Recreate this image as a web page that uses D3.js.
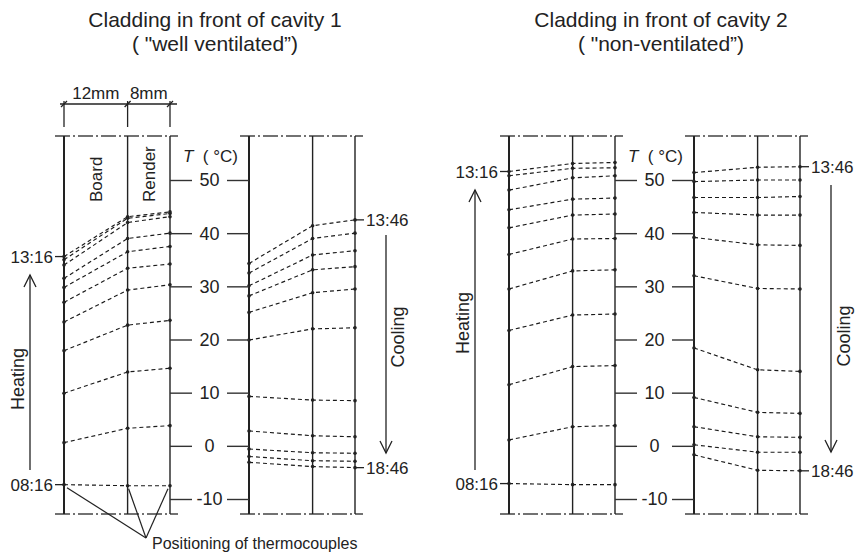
<!DOCTYPE html>
<html>
<head>
<meta charset="utf-8">
<script src="https://cdn.jsdelivr.net/npm/d3@7"></script>
<style>
  body { margin: 0; background: #fff; }
  text { font-family: "Liberation Sans", Arial, sans-serif; fill: #222; }
</style>
</head>
<body>
<div class="svg-container"></div>
<script>
var width = 857;
var height = 553;

// thermocouple positions through the cladding (mm)
var positions = [0, 12, 20];
var tempTicks = [-10, 0, 10, 20, 30, 40, 50];
var heatTimes = ["08:16", "13:16"];
var coolTimes = ["13:46", "18:46"];
var layerNames = ["Board", "Render"];
var layerWidths = ["12mm", "8mm"];

// temperature profiles (°C) at the three positions, first to last reading
var heat1 = [[-7.3, -7.5, -7.5], [0.6, 3.3, 3.8], [9.9, 13.9, 14.6], [17.9, 22.7, 23.6],
             [23.3, 29.3, 30.3], [27.0, 33.4, 34.2], [29.8, 36.5, 37.5], [31.5, 39.0, 40.0],
             [34.0, 42.0, 43.1], [35.0, 42.8, 43.7], [35.6, 43.1, 44.0]];
var cool1 = [[34.3, 41.4, 42.5], [32.5, 39.0, 40.0], [30.1, 35.9, 36.7], [28.2, 33.1, 33.7],
             [25.1, 28.8, 29.5], [19.9, 22.0, 22.2], [9.3, 8.6, 8.5], [2.8, 1.9, 1.7],
             [-0.6, -1.3, -1.4], [-2.0, -2.8, -2.9], [-3.1, -3.9, -4.1]];
var heat2 = [[-7.1, -7.3, -7.3], [1.1, 3.6, 3.8], [11.5, 14.9, 15.1], [21.7, 24.6, 24.8],
             [29.5, 32.9, 33.1], [36.0, 38.9, 39.0], [41.0, 43.4, 43.6], [44.4, 46.4, 46.6],
             [48.1, 50.4, 50.8], [50.8, 52.2, 52.3], [51.6, 53.1, 53.3]];
var cool2 = [[51.4, 52.4, 52.5], [49.7, 50.0, 50.0], [46.7, 46.7, 46.9], [43.9, 43.4, 43.4],
             [39.2, 37.8, 37.7], [32.0, 29.6, 29.5], [18.4, 14.3, 14.0], [9.1, 6.3, 6.1],
             [3.6, 1.7, 1.6], [0.2, -1.2, -1.2], [-1.7, -4.6, -4.7]];

var titles1 = ["Cladding in front of cavity 1", "( \"well ventilated\u201D)"];
var titles2 = ["Cladding in front of cavity 2", "( \"non-ventilated\u201D)"];

var frameTop = 136, frameBottom = 514;

var svg = d3.select(".svg-container")
            .append("svg")
            .attr("width", width)
            .attr("height", height);

var scaleY = d3.scaleLinear().domain([-10, 50]).range([499, 180]);
var scaleX = d3.scaleLinear().domain([0, 20]).range([0, 106]);

var panels = [
  { heat: heat1, cool: cool1, heatX: 64, coolX: 249, titleX: 215, titles: titles1,
    heatArrow: [30, 470, 275], heatText: [24, 379], coolArrow: [386, 235, 453], coolText: [404, 337] },
  { heat: heat2, cool: cool2, heatX: 509, coolX: 694, titleX: 661, titles: titles2,
    heatArrow: [475, 470, 190], heatText: [469, 323], coolArrow: [831, 185, 452], coolText: [850, 336] }
];

panels.forEach(function(p) {
  drawTitle(p);
  drawSection(p.heatX, p.heat);
  drawSection(p.coolX, p.cool);
  drawAxis(p.heatX + scaleX(20), p.coolX);
  timeLabel(p.heatX, p.heat[0][0], heatTimes[0], "left");
  timeLabel(p.heatX, p.heat[p.heat.length - 1][0], heatTimes[1], "left");
  timeLabel(p.coolX + scaleX(20), p.cool[0][2], coolTimes[0], "right");
  timeLabel(p.coolX + scaleX(20), p.cool[p.cool.length - 1][2], coolTimes[1], "right");
  arrow(p.heatArrow, "Heating", p.heatText);
  arrow(p.coolArrow, "Cooling", p.coolText);
});

drawDimensions(panels[0].heatX);
drawPositioning(panels[0].heatX, heat1[0]);

function drawTitle(p) {
  svg.selectAll(null)
     .data(p.titles)
     .enter()
     .append("text")
     .attr("x", p.titleX)
     .attr("y", function(d, i) { return 27 + i * 24; })
     .attr("text-anchor", "middle")
     .style("font-size", "21px")
     .text(function(d) { return d; });
}

function drawSection(x0, rows) {
  var g = svg.append("g").attr("transform", "translate(" + x0 + ",0)");

  // dash-dot section borders
  [frameTop, frameBottom].forEach(function(yy) {
    g.append("line")
     .attr("x1", -9).attr("x2", scaleX(20) + 8)
     .attr("y1", yy).attr("y2", yy)
     .attr("stroke", "#444")
     .attr("stroke-width", 1.4)
     .attr("stroke-dasharray", "15,3,2,3");
  });

  g.selectAll(".layer")
   .data(positions)
   .enter()
   .append("line")
   .attr("x1", function(d) { return scaleX(d); })
   .attr("x2", function(d) { return scaleX(d); })
   .attr("y1", frameTop).attr("y2", frameBottom)
   .attr("stroke", "#222")
   .attr("stroke-width", function(d, i) { return i == 0 ? 2 : 1.4; });

  var line = d3.line()
               .x(function(d, i) { return scaleX(positions[i]); })
               .y(function(d) { return scaleY(d); });

  g.selectAll(".profile")
   .data(rows)
   .enter()
   .append("path")
   .attr("d", line)
   .attr("fill", "none")
   .attr("stroke", "#1a1a1a")
   .attr("stroke-width", 1.15)
   .attr("stroke-dasharray", "4,3");

  rows.forEach(function(r) {
    g.selectAll(null)
     .data(r)
     .enter()
     .append("circle")
     .attr("cx", function(d, i) { return scaleX(positions[i]); })
     .attr("cy", function(d) { return scaleY(d); })
     .attr("r", 1.8)
     .attr("fill", "#222");
  });
}

function drawAxis(xLeft, xRight) {
  var a = svg.append("g")
             .attr("transform", "translate(" + xLeft + ",0)")
             .call(d3.axisRight(scaleY).tickValues(tempTicks).tickSize(22).tickFormat(""));
  var b = svg.append("g")
             .attr("transform", "translate(" + xRight + ",0)")
             .call(d3.axisLeft(scaleY).tickValues(tempTicks).tickSize(22).tickFormat(""));
  [a, b].forEach(function(s) {
    s.select(".domain").remove();
    s.selectAll("line").attr("stroke", "#333").attr("stroke-width", 1.4);
  });

  var mid = (xLeft + xRight) / 2;
  svg.selectAll(null)
     .data(tempTicks)
     .enter()
     .append("text")
     .attr("x", mid)
     .attr("y", function(d) { return scaleY(d); })
     .attr("dy", "0.36em")
     .attr("text-anchor", "middle")
     .style("font-size", "18px")
     .text(function(d) { return d; });

  var t = svg.append("text")
             .attr("x", mid + 1)
             .attr("y", 162)
             .attr("text-anchor", "middle")
             .style("font-size", "17px");
  t.append("tspan").style("font-style", "italic").text("T");
  t.append("tspan").attr("xml:space", "preserve").text("  ( \u00B0C)");
}

function timeLabel(xx, value, label, side) {
  var yy = scaleY(value);
  var dir = side == "left" ? -1 : 1;
  svg.append("line")
     .attr("x1", xx).attr("x2", xx + dir * 9)
     .attr("y1", yy).attr("y2", yy)
     .attr("stroke", "#222")
     .attr("stroke-width", 1.3);
  svg.append("text")
     .attr("x", xx + dir * 11)
     .attr("y", yy)
     .attr("dy", "0.36em")
     .attr("text-anchor", side == "left" ? "end" : "start")
     .style("font-size", "17px")
     .text(label);
}

function arrow(a, label, pos) {
  var xx = a[0], from = a[1], to = a[2];
  var dir = to < from ? 1 : -1;
  svg.append("line")
     .attr("x1", xx).attr("x2", xx)
     .attr("y1", from).attr("y2", to)
     .attr("stroke", "#222").attr("stroke-width", 1.3);
  svg.append("path")
     .attr("d", "M" + (xx - 6) + "," + (to + dir * 12) + "L" + xx + "," + to + "L" + (xx + 6) + "," + (to + dir * 12))
     .attr("fill", "none")
     .attr("stroke", "#222").attr("stroke-width", 1.3);
  svg.append("text")
     .attr("transform", "translate(" + pos[0] + "," + pos[1] + ") rotate(-90)")
     .attr("text-anchor", "middle")
     .style("font-size", "18px")
     .text(label);
}

function drawDimensions(x0) {
  var dimY = 104;
  svg.append("line")
     .attr("x1", x0 - 4).attr("x2", x0 + scaleX(20) + 7)
     .attr("y1", dimY).attr("y2", dimY)
     .attr("stroke", "#222").attr("stroke-width", 1.3);
  positions.forEach(function(d) {
    var xx = x0 + scaleX(d);
    svg.append("line")
       .attr("x1", xx).attr("x2", xx)
       .attr("y1", dimY - 3).attr("y2", 127)
       .attr("stroke", "#222").attr("stroke-width", 1.3);
    svg.append("line")
       .attr("x1", xx - 3).attr("x2", xx + 3)
       .attr("y1", dimY + 3).attr("y2", dimY - 3)
       .attr("stroke", "#222").attr("stroke-width", 1.3);
  });
  layerWidths.forEach(function(w, i) {
    var mid = x0 + (scaleX(positions[i]) + scaleX(positions[i + 1])) / 2;
    svg.append("text")
       .attr("x", mid)
       .attr("y", 99)
       .attr("text-anchor", "middle")
       .style("font-size", "17px")
       .text(w);
    svg.append("text")
       .attr("transform", "translate(" + (mid + 6) + ",202) rotate(-90)")
       .attr("text-anchor", "start")
       .style("font-size", "17px")
       .text(layerNames[i]);
  });
}

function drawPositioning(x0, row) {
  var tip = [146, 538];
  row.forEach(function(d, i) {
    svg.append("line")
       .attr("x1", x0 + scaleX(positions[i]) + (i == 0 ? 3 : (i == 1 ? 1 : -2)))
       .attr("y1", scaleY(d) + 3)
       .attr("x2", tip[0]).attr("y2", tip[1])
       .attr("stroke", "#222").attr("stroke-width", 1.2);
  });
  svg.append("text")
     .attr("x", 152)
     .attr("y", 549)
     .style("font-size", "16px")
     .text("Positioning of thermocouples");
}
</script>
</body>
</html>
